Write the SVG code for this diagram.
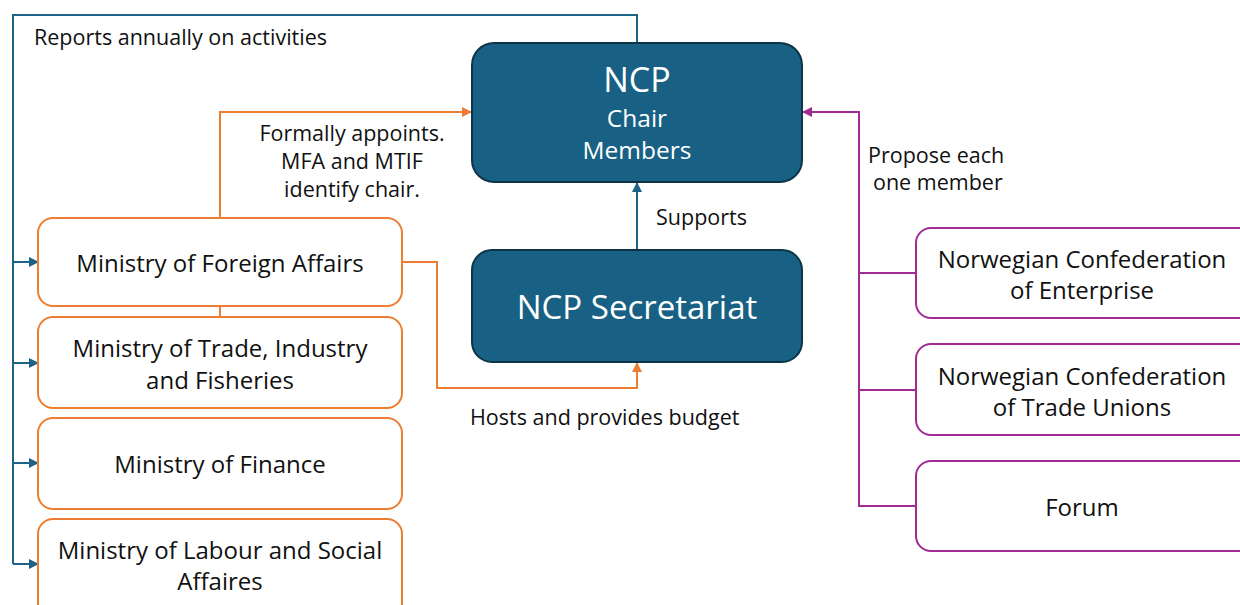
<svg xmlns="http://www.w3.org/2000/svg" width="1240" height="605" viewBox="0 0 1240 605">
  <style>
    text { font-family: "Open Sans", "Liberation Sans", Arial, sans-serif; fill: #111; }
    .lbl { font-size: 21.5px; }
    .node-text { font-size: 24px; text-anchor: middle; dominant-baseline: central; }
    .ncp { fill: #186184; stroke: #0e3447; stroke-width: 2; }
    .ncp-text { fill: #fff; text-anchor: middle; dominant-baseline: central; }
    .min { fill: #fff; stroke: #ed7d31; stroke-width: 2; }
    .org { fill: #fff; stroke: #a02b93; stroke-width: 2; }
    .c-blue { fill: none; stroke: #1d6388; stroke-width: 2; }
    .c-orange { fill: none; stroke: #ed7d31; stroke-width: 2; }
    .c-purple { fill: none; stroke: #a02b93; stroke-width: 2; }
  </style>
  <defs>
    <marker id="ah-blue" viewBox="0 0 10 10" refX="9" refY="5" markerWidth="5" markerHeight="5" orient="auto" markerUnits="strokeWidth">
      <path d="M0,0 L10,5 L0,10 z" fill="#1d6388"/>
    </marker>
    <marker id="ah-orange" viewBox="0 0 10 10" refX="9" refY="5" markerWidth="5" markerHeight="5" orient="auto" markerUnits="strokeWidth">
      <path d="M0,0 L10,5 L0,10 z" fill="#ed7d31"/>
    </marker>
    <marker id="ah-purple" viewBox="0 0 10 10" refX="9" refY="5" markerWidth="5" markerHeight="5" orient="auto" markerUnits="strokeWidth">
      <path d="M0,0 L10,5 L0,10 z" fill="#a02b93"/>
    </marker>
  </defs>

  <rect width="1240" height="605" fill="#fff"/>

  <!-- connectors -->
  <g id="connectors">
    <!-- annual reporting loop to the ministries -->
    <path class="c-blue" d="M637,43 V15 H13 V564"/>
    <path class="c-blue" d="M13,262 H38" marker-end="url(#ah-blue)"/>
    <path class="c-blue" d="M13,363 H38" marker-end="url(#ah-blue)"/>
    <path class="c-blue" d="M13,463 H38" marker-end="url(#ah-blue)"/>
    <path class="c-blue" d="M13,564 H38" marker-end="url(#ah-blue)"/>
    <!-- secretariat supports NCP -->
    <path class="c-blue" d="M637,250 V183" marker-end="url(#ah-blue)"/>
    <!-- appointment -->
    <path class="c-orange" d="M220,218 V112 H471" marker-end="url(#ah-orange)"/>
    <path class="c-orange" d="M220,306 V317"/>
    <!-- hosting and budget -->
    <path class="c-orange" d="M402,262 H437 V388 H637 V363" marker-end="url(#ah-orange)"/>
    <!-- member proposals -->
    <path class="c-purple" d="M916,273 H859"/>
    <path class="c-purple" d="M916,390 H859"/>
    <path class="c-purple" d="M916,506 H859 V112 H803" marker-end="url(#ah-purple)"/>
  </g>

  <!-- connector labels -->
  <g id="labels">
    <text class="lbl" x="34" y="45">Reports annually on activities</text>
    <text class="lbl" text-anchor="middle" x="352" y="141">Formally appoints.</text>
    <text class="lbl" text-anchor="middle" x="352" y="169">MFA and MTIF</text>
    <text class="lbl" text-anchor="middle" x="352" y="197">identify chair.</text>
    <text class="lbl" x="656" y="225">Supports</text>
    <text class="lbl" x="470" y="425">Hosts and provides budget</text>
    <text class="lbl" x="868" y="163">Propose each</text>
    <text class="lbl" x="873" y="190">one member</text>
  </g>

  <g id="ncp">
    <rect class="ncp" x="472" y="43" width="330" height="139" rx="22"/>
    <text class="ncp-text" x="637" y="79" font-size="34">NCP</text>
    <text class="ncp-text" x="637" y="117" font-size="24.5">Chair</text>
    <text class="ncp-text" x="637" y="149" font-size="24.5">Members</text>
  </g>

  <g id="secretariat">
    <rect class="ncp" x="472" y="250" width="330" height="112" rx="20"/>
    <text class="ncp-text" x="637" y="306" font-size="33">NCP Secretariat</text>
  </g>

  <g id="mfa">
    <rect class="min" x="38" y="218" width="364" height="88" rx="15"/>
    <text class="node-text" x="220" y="262">Ministry of Foreign Affairs</text>
  </g>
  <g id="mtif">
    <rect class="min" x="38" y="317" width="364" height="91" rx="15"/>
    <text class="node-text" x="220" y="347">Ministry of Trade, Industry</text>
    <text class="node-text" x="220" y="379">and Fisheries</text>
  </g>
  <g id="mof">
    <rect class="min" x="38" y="418" width="364" height="91" rx="15"/>
    <text class="node-text" x="220" y="463">Ministry of Finance</text>
  </g>
  <g id="mlsa">
    <rect class="min" x="38" y="519" width="364" height="100" rx="15"/>
    <text class="node-text" x="220" y="549">Ministry of Labour and Social</text>
    <text class="node-text" x="220" y="580">Affaires</text>
  </g>

  <g id="nho">
    <rect class="org" x="916" y="228" width="340" height="90" rx="15"/>
    <text class="node-text" x="1082" y="258">Norwegian Confederation</text>
    <text class="node-text" x="1082" y="289">of Enterprise</text>
  </g>
  <g id="lo">
    <rect class="org" x="916" y="344" width="340" height="91" rx="15"/>
    <text class="node-text" x="1082" y="375">Norwegian Confederation</text>
    <text class="node-text" x="1082" y="406">of Trade Unions</text>
  </g>
  <g id="forum">
    <rect class="org" x="916" y="461" width="340" height="90" rx="15"/>
    <text class="node-text" x="1082" y="506">Forum</text>
  </g>
</svg>
